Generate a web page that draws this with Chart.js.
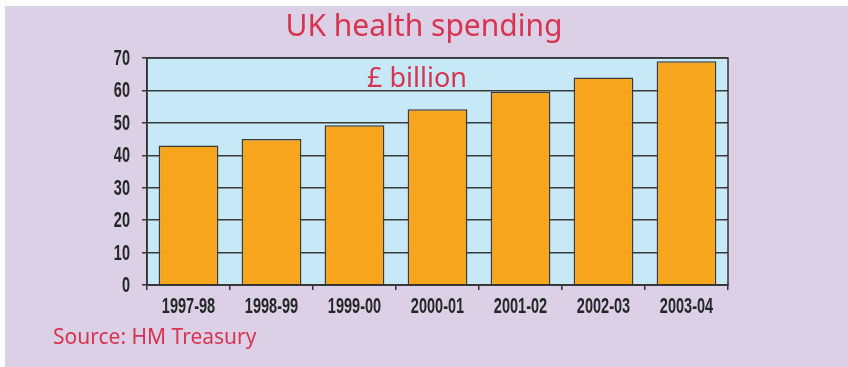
<!DOCTYPE html>
<html>
<head>
<meta charset="utf-8">
<script src="https://cdn.jsdelivr.net/npm/chart.js@4/dist/chart.umd.min.js"></script>
<style>
  body { margin: 0; background: #fff; }
  #wrap { position: relative; width: 848px; height: 367px; overflow: hidden; }
  #panel { position: absolute; left: 5px; top: 6px; width: 843px; height: 361px; background: #dbd0e6; }
  canvas { position: absolute; left: 0; top: 0; }
  .red { position: absolute; color: #d8334f; font-family: "Noto Sans", sans-serif; white-space: nowrap; }
  #title { left: 0; width: 848px; text-align: center; top: 10px; font-size: 30px; line-height: 30px; }
  #unit { left: 367px; top: 63px; font-size: 27px; line-height: 27px; }
  #source { left: 53px; top: 326px; font-size: 21px; line-height: 21px; }
</style>
</head>
<body>
<div id="wrap">
  <div id="panel"></div>
  <canvas id="c" width="848" height="367"></canvas>
  <div class="red" id="title">UK health spending</div>
  <div class="red" id="unit">£ billion</div>
  <div class="red" id="source">Source: HM Treasury</div>
</div>
<script>
const years = ['1997-98', '1998-99', '1999-00', '2000-01', '2001-02', '2002-03', '2003-04'];
const spending = [43, 45, 49.3, 54.2, 59.6, 64, 69];
const yMin = 0, yMax = 70, yStep = 10;

const tickFont = 'bold 22px "Liberation Sans", Arial, sans-serif';
const squeeze = 0.66; // no condensed face installed, so squash the tick text

// light blue plot background + frame round it
const plotFrame = {
  id: 'plotFrame',
  beforeDraw(chart) {
    const a = chart.chartArea, ctx = chart.ctx;
    ctx.save();
    ctx.fillStyle = '#c7e8f7';
    ctx.fillRect(a.left, a.top, a.right - a.left, a.bottom - a.top);
    ctx.restore();
  },
  afterDatasetsDraw(chart) {
    const a = chart.chartArea, ctx = chart.ctx;
    ctx.save();
    ctx.strokeStyle = '#333';
    ctx.lineWidth = 1.5;
    ctx.strokeRect(a.left, a.top, a.right - a.left, a.bottom - a.top);
    ctx.restore();
  }
};

// draws the axis tick labels at the scales' own tick positions, narrowed
const narrowTicks = {
  id: 'narrowTicks',
  afterDraw(chart) {
    const ctx = chart.ctx;
    const xs = chart.scales.x, ys = chart.scales.y;
    ctx.save();
    ctx.font = tickFont;
    ctx.fillStyle = '#262626';
    ctx.textBaseline = 'alphabetic';
    ctx.textAlign = 'center';
    xs.ticks.forEach((t, i) => {
      ctx.save();
      ctx.translate(xs.getPixelForTick(i), xs.top + 28);
      ctx.scale(squeeze, 1);
      ctx.fillText(xs.getLabelForValue(t.value), 0, 0);
      ctx.restore();
    });
    ctx.textAlign = 'right';
    ys.ticks.forEach(t => {
      ctx.save();
      ctx.translate(ys.right - 17, ys.getPixelForValue(t.value) + 7);
      ctx.scale(squeeze, 1);
      ctx.fillText(t.label, 0, 0);
      ctx.restore();
    });
    ctx.restore();
  }
};

new Chart(document.getElementById('c'), {
  type: 'bar',
  data: {
    labels: years,
    datasets: [{
      data: spending,
      backgroundColor: '#f7a51c',
      borderColor: '#3a3a3a',
      borderWidth: 1.5,
      barPercentage: 0.72,
      categoryPercentage: 1
    }]
  },
  options: {
    responsive: false,
    animation: false,
    layout: { padding: { left: 0, top: 58, right: 120, bottom: 52 } },
    plugins: { legend: { display: false }, tooltip: { enabled: false } },
    scales: {
      x: {
        afterFit(s) { s.height = 30; },
        grid: { offset: true, drawOnChartArea: false, drawTicks: true, tickLength: 5, color: '#333', lineWidth: 1.5 },
        border: { color: '#333', width: 1.5 },
        ticks: { color: 'rgba(0,0,0,0)', padding: 3, font: { size: 12 } }
      },
      y: {
        min: yMin, max: yMax,
        afterFit(s) { s.width = 147; },
        grid: { color: '#3a3a3a', lineWidth: 1.5, tickLength: 5 },
        border: { color: '#333', width: 1.5 },
        ticks: { stepSize: yStep, color: 'rgba(0,0,0,0)', padding: 11, font: { size: 12 } }
      }
    }
  },
  plugins: [plotFrame, narrowTicks]
});
</script>
</body>
</html>
